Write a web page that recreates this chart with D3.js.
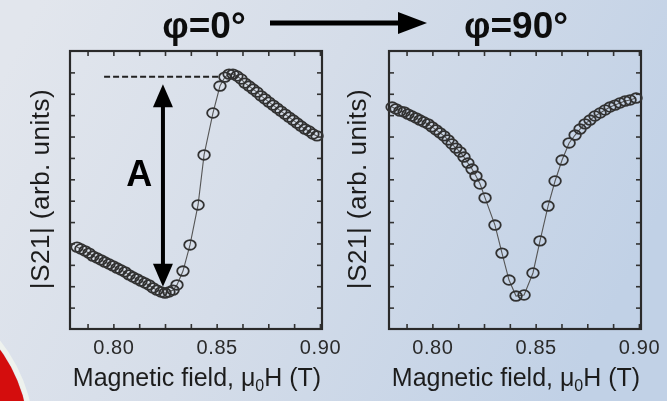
<!DOCTYPE html>
<html>
<head>
<meta charset="utf-8">
<script src="https://cdn.jsdelivr.net/npm/d3@7"></script>
<style>
    body { margin: 0; }
    svg { display: block; font-family: "Liberation Sans", Arial, sans-serif; }
</style>
</head>
<body>
<div id="chart"></div>
<script>
'use strict';

// phi = 0 deg sweep (field in T, |S21| in arb. units)
var field0 = [0.7824, 0.7843, 0.7863, 0.7882, 0.7901, 0.7921, 0.7940, 0.7959, 0.7979, 0.7998,
    0.8018, 0.8037, 0.8056, 0.8076, 0.8095, 0.8114, 0.8134, 0.8153, 0.8172, 0.8192,
    0.8211, 0.8231, 0.8250, 0.8269, 0.8289, 0.8308, 0.8337, 0.8371, 0.8410, 0.8439,
    0.8482, 0.8516, 0.8540, 0.8560, 0.8579, 0.8598, 0.8618, 0.8637, 0.8657, 0.8676,
    0.8695, 0.8715, 0.8734, 0.8753, 0.8773, 0.8792, 0.8811, 0.8831, 0.8850, 0.8870,
    0.8889, 0.8908, 0.8928, 0.8947, 0.8966, 0.8986];
var s21_0 = [3.83, 3.74, 3.65, 3.55, 3.41, 3.32, 3.23, 3.13, 3.04, 2.95,
    2.85, 2.76, 2.67, 2.53, 2.43, 2.34, 2.24, 2.15, 2.06, 1.92,
    1.82, 1.73, 1.68, 1.73, 1.82, 2.06, 2.71, 3.93, 5.80, 8.14,
    10.10, 11.36, 11.78, 11.92, 11.92, 11.83, 11.69, 11.50, 11.36, 11.22,
    11.08, 10.90, 10.76, 10.61, 10.47, 10.33, 10.19, 10.05, 9.91, 9.77,
    9.63, 9.49, 9.35, 9.26, 9.12, 9.03];

// phi = 90 deg sweep
var field90 = [0.7805, 0.7824, 0.7843, 0.7863, 0.7882, 0.7901, 0.7921, 0.7940, 0.7959, 0.7979,
    0.7998, 0.8018, 0.8037, 0.8056, 0.8076, 0.8095, 0.8114, 0.8134, 0.8153, 0.8172,
    0.8192, 0.8211, 0.8231, 0.8255, 0.8303, 0.8337, 0.8371, 0.8405, 0.8444, 0.8487,
    0.8521, 0.8560, 0.8594, 0.8628, 0.8662, 0.8691, 0.8715, 0.8739, 0.8763, 0.8787,
    0.8812, 0.8836, 0.8860, 0.8884, 0.8908, 0.8933, 0.8957, 0.8986];
var s21_90 = [10.38, 10.29, 10.19, 10.15, 10.05, 9.96, 9.87, 9.77, 9.68, 9.59,
    9.45, 9.31, 9.17, 9.03, 8.84, 8.65, 8.46, 8.28, 8.04, 7.76,
    7.48, 7.15, 6.78, 6.13, 4.86, 3.55, 2.29, 1.54, 1.59, 2.62,
    4.12, 5.75, 6.92, 7.90, 8.70, 9.07, 9.35, 9.59, 9.77, 9.96,
    10.10, 10.24, 10.38, 10.47, 10.57, 10.66, 10.71, 10.80];

var xLabelTicks = [0.80, 0.85, 0.90];
var xMinorTicks = [0.7875, 0.80, 0.8125, 0.825, 0.8375, 0.85, 0.8625, 0.875, 0.8875, 0.90];
var yMinorTicks = [1, 2, 3, 4, 5, 6, 7, 8, 9, 10, 11, 12];
var panelTitles = ['φ=0°', 'φ=90°'];

// amplitude annotation on the phi = 0 panel
var ampField = 0.8240;
var ampTop = 11.8, ampTipTop = 11.45, ampTipBottom = 1.97;
var dashFrom = 0.7955, dashTo = 0.8516;

var svgWidth = 667, svgHeight = 401,
    panelW = 252, panelH = 278,
    panelLeft = [70, 389], panelTop = 51;

var svg = d3.select('#chart').append('svg')
    .attr('width', svgWidth)
    .attr('height', svgHeight);

// background
var defs = svg.append('defs');
var grad = defs.append('linearGradient')
    .attr('id', 'bg')
    .attr('x1', '0').attr('y1', '0.2')
    .attr('x2', '1').attr('y2', '0.5');
grad.append('stop').attr('offset', '0').attr('stop-color', '#e2e6ed');
grad.append('stop').attr('offset', '0.45').attr('stop-color', '#d5dde9');
grad.append('stop').attr('offset', '1').attr('stop-color', '#c1d1e6');

// the source is a soft, upscaled picture
defs.append('filter')
    .attr('id', 'soft')
    .append('feGaussianBlur')
    .attr('stdDeviation', 0.55);

svg.append('rect')
    .attr('width', svgWidth)
    .attr('height', svgHeight)
    .attr('fill', 'url(#bg)');

var root = svg.append('g').attr('filter', 'url(#soft)');

// red logo corner
root.append('circle')
    .attr('cx', -124).attr('cy', 439).attr('r', 156)
    .attr('fill', 'none')
    .attr('stroke', '#eef2ee')
    .attr('stroke-width', 5);
root.append('circle')
    .attr('cx', -124).attr('cy', 439).attr('r', 153)
    .attr('fill', '#d40a0a');

var x = d3.scaleLinear().domain([0.779, 0.901]).range([0, panelW]);
var y = d3.scaleLinear().domain([0, 13]).range([panelH, 0]);

var line = d3.line()
    .x(function(d) { return x(d[0]); })
    .y(function(d) { return y(d[1]); });

function drawPanel(i, fields, values) {
    var g = root.append('g')
        .attr('transform', 'translate(' + panelLeft[i] + ',' + panelTop + ')');

    var xAxis = d3.axisBottom(x)
        .tickValues(xMinorTicks)
        .tickSize(-5)
        .tickPadding(11)
        .tickFormat(function(d) {
            var hit = xLabelTicks.some(function(t) { return Math.abs(t - d) < 1e-6; });
            return hit ? d3.format('.2f')(d) : '';
        });

    var gx = g.append('g')
        .attr('transform', 'translate(0,' + panelH + ')')
        .call(xAxis);
    gx.selectAll('text')
        .attr('fill', '#2a2a2a')
        .style('font-size', '20px')
        .style('letter-spacing', '0.6px');

    g.append('g')
        .call(d3.axisTop(x).tickValues(xMinorTicks).tickSize(-5).tickFormat(''));
    g.append('g')
        .call(d3.axisLeft(y).tickValues(yMinorTicks).tickSize(-5).tickFormat(''));
    g.append('g')
        .attr('transform', 'translate(' + panelW + ',0)')
        .call(d3.axisRight(y).tickValues(yMinorTicks).tickSize(-5).tickFormat(''));

    g.selectAll('.domain').remove();
    g.selectAll('.tick line')
        .attr('stroke', '#333')
        .attr('stroke-width', 1.6);

    g.append('rect')
        .attr('width', panelW)
        .attr('height', panelH)
        .attr('fill', 'none')
        .attr('stroke', '#2b2b2b')
        .attr('stroke-width', 2.2);

    var pts = fields.map(function(f, k) { return [f, values[k]]; });

    g.append('path')
        .datum(pts)
        .attr('d', line)
        .attr('fill', 'none')
        .attr('stroke', '#555')
        .attr('stroke-width', 1.1);

    g.selectAll('ellipse.pt')
        .data(pts)
        .enter().append('ellipse')
        .attr('class', 'pt')
        .attr('cx', function(d) { return x(d[0]); })
        .attr('cy', function(d) { return y(d[1]); })
        .attr('rx', 5.8)
        .attr('ry', 4.8)
        .attr('fill', 'none')
        .attr('stroke', '#333')
        .attr('stroke-width', 1.8);

    // axis titles
    var xt = g.append('text')
        .attr('x', panelW / 2 + 1)
        .attr('y', panelH + 57)
        .attr('text-anchor', 'middle')
        .attr('fill', '#1e1e1e')
        .style('font-size', '25px');
    xt.append('tspan').text('Magnetic field, μ');
    xt.append('tspan').attr('dy', 5).style('font-size', '16px').text('0');
    xt.append('tspan').attr('dy', -5).text('H (T)');

    g.append('text')
        .attr('transform', 'translate(' + (i === 0 ? -30 : -32) + ',' + (panelH / 2 - 1) + ') rotate(-90)')
        .attr('text-anchor', 'middle')
        .attr('dy', '0.35em')
        .attr('fill', '#1e1e1e')
        .style('font-size', '26px')
        .style('letter-spacing', '0.5px')
        .text('|S21| (arb. units)');

    // panel title
    root.append('text')
        .attr('x', panelLeft[i] + (i === 0 ? 134 : 127))
        .attr('y', 38)
        .attr('text-anchor', 'middle')
        .attr('fill', '#111')
        .style('font-size', '37px')
        .style('font-weight', 'bold')
        .text(panelTitles[i]);

    return g;
}

var g0 = drawPanel(0, field0, s21_0);
drawPanel(1, field90, s21_90);

// dashed reference at the peak
g0.append('line')
    .attr('x1', x(dashFrom)).attr('x2', x(dashTo))
    .attr('y1', y(ampTop)).attr('y2', y(ampTop))
    .attr('stroke', '#222')
    .attr('stroke-width', 2)
    .attr('stroke-dasharray', '6,3');

// double arrow for amplitude A
var ax = x(ampField), yTop = y(ampTipTop), yBot = y(ampTipBottom), head = 23, hw = 10;
g0.append('line')
    .attr('x1', ax).attr('x2', ax)
    .attr('y1', yTop + head - 2).attr('y2', yBot - head + 2)
    .attr('stroke', '#000')
    .attr('stroke-width', 4);
g0.append('path')
    .attr('d', 'M' + ax + ',' + yTop + 'L' + (ax + hw) + ',' + (yTop + head) + 'L' + (ax - hw) + ',' + (yTop + head) + 'Z')
    .attr('fill', '#000');
g0.append('path')
    .attr('d', 'M' + ax + ',' + yBot + 'L' + (ax + hw) + ',' + (yBot - head) + 'L' + (ax - hw) + ',' + (yBot - head) + 'Z')
    .attr('fill', '#000');

g0.append('text')
    .attr('x', x(0.8125))
    .attr('y', y(6.7))
    .attr('text-anchor', 'middle')
    .attr('fill', '#000')
    .style('font-size', '36px')
    .style('font-weight', 'bold')
    .text('A');

// arrow between titles
root.append('line')
    .attr('x1', 270).attr('x2', 404)
    .attr('y1', 23).attr('y2', 23)
    .attr('stroke', '#000')
    .attr('stroke-width', 5);
root.append('path')
    .attr('d', 'M427,23L398,12L398,34Z')
    .attr('fill', '#000');
</script>
</body>
</html>
